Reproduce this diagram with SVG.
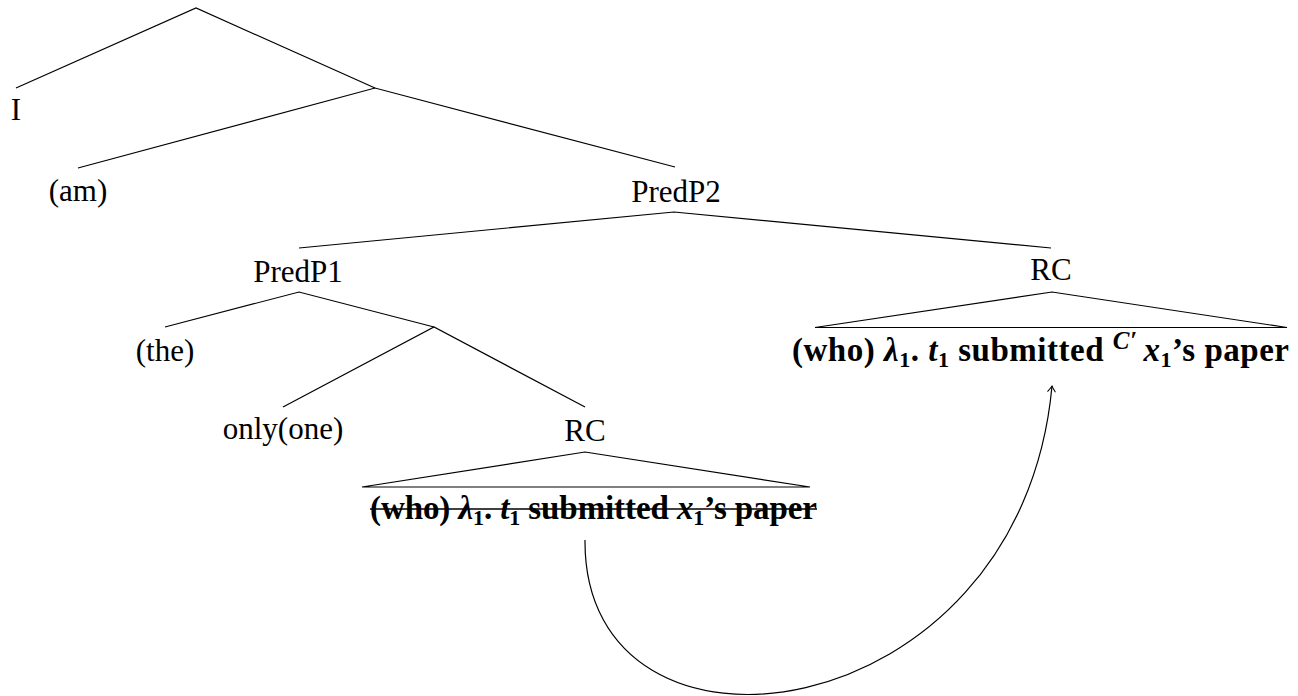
<svg xmlns="http://www.w3.org/2000/svg" width="1298" height="696" viewBox="0 0 1298 696">
  <style>
    .edge { stroke: #000; stroke-width: 1.2; fill: none; }
    text { font-family: 'Liberation Serif', 'DejaVu Serif', serif; font-size: 31px; fill: #000; }
    .lbl { text-anchor: middle; }
    .bold { font-weight: bold; font-size: 33px; }
    .it { font-style: italic; }
    .sub { font-size: 22px; font-style: normal; }
  </style>
  <defs>
    <marker id="head" markerWidth="12" markerHeight="12" refX="0" refY="0" viewBox="-8 -6 10 12" orient="auto" markerUnits="userSpaceOnUse">
      <path d="M -6 -4 Q -2 -1 0 0 Q -2 1 -6 4" stroke="#000" stroke-width="1" fill="none"/>
    </marker>
  </defs>

  <!-- tree edges and roofs -->
  <g id="connectors">
    <path class="edge" d="M16 88 L196 8 L375 88"/>
    <path class="edge" d="M78 168 L375 88 L675 167"/>
    <path class="edge" d="M299 248 L674 212 L1051 248"/>
    <path class="edge" d="M165 327 L299 292 L434 327"/>
    <path class="edge" d="M283 407 L434 327 L585 407"/>
    <path class="edge" d="M815 327.5 L1052 292 L1287 327.5 Z"/>
    <path class="edge" d="M362 487 L585 452 L810 487 Z"/>
    <!-- movement arrow from the deleted RC to the pronounced one -->
    <path class="edge" d="M585 540 C583 790 1020 735 1052 386" marker-end="url(#head)"/>
  </g>

  <g id="node-i"><text class="lbl" x="16" y="120">I</text></g>
  <g id="node-am"><text class="lbl" x="78" y="201">(am)</text></g>
  <g id="node-predp2"><text class="lbl" x="676" y="202">PredP2</text></g>
  <g id="node-predp1"><text class="lbl" x="298" y="282">PredP1</text></g>
  <g id="node-rc-high"><text class="lbl" x="1051" y="280">RC</text></g>
  <g id="node-the"><text class="lbl" x="165" y="361">(the)</text></g>
  <g id="node-only"><text class="lbl" x="283" y="439">only(one)</text></g>
  <g id="node-rc-low"><text class="lbl" x="585" y="441">RC</text></g>

  <g id="node-rc-high-content">
    <text class="bold" x="792" y="361" textLength="497" lengthAdjust="spacing">(who) <tspan class="it">λ</tspan><tspan class="sub" dy="6">1</tspan><tspan dy="-6">. </tspan><tspan class="it">t</tspan><tspan class="sub" dy="6">1</tspan><tspan dy="-6"> submitted </tspan><tspan class="it" font-size="25" dy="-12">C′</tspan><tspan class="it" dy="12" dx="6">x</tspan><tspan class="sub" dy="6">1</tspan><tspan dy="-6">’s paper</tspan></text>
  </g>

  <g id="node-rc-low-content">
    <text class="bold" x="370" y="519" textLength="447" lengthAdjust="spacing">(who) <tspan class="it">λ</tspan><tspan class="sub" dy="6">1</tspan><tspan dy="-6">. </tspan><tspan class="it">t</tspan><tspan class="sub" dy="6">1</tspan><tspan dy="-6"> submitted </tspan><tspan class="it">x</tspan><tspan class="sub" dy="6">1</tspan><tspan dy="-6">’s paper</tspan></text>
    <line x1="370" y1="509" x2="817" y2="509" stroke="#000" stroke-width="1.6"/>
  </g>
</svg>
